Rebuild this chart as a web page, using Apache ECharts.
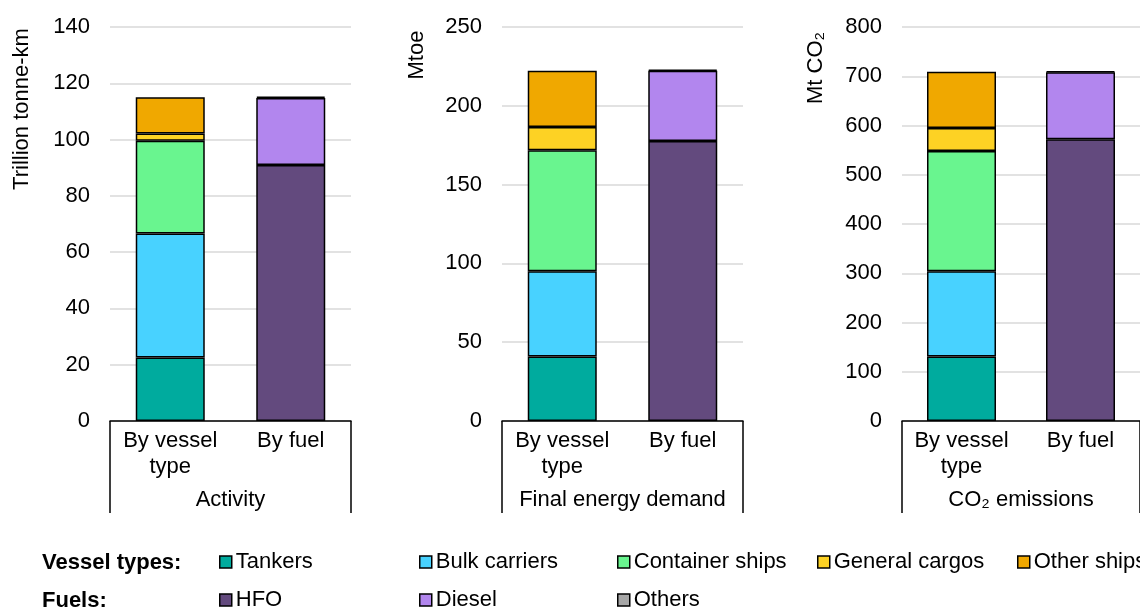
<!DOCTYPE html>
<html>
<head>
<meta charset="utf-8">
<style>
html,body{margin:0;padding:0;background:#fff;}
#chart{width:1140px;height:608px;}
</style>
<script src="https://cdn.jsdelivr.net/npm/echarts@6/dist/echarts.min.js"></script>
</head>
<body>
<div id="chart"></div>
<script>
// ---- Data ----
const categories = ['By vessel\ntype', 'By fuel'];
const panelNames = ['Activity', 'Final energy demand', 'CO\u2082 emissions'];
const yAxisNames = ['Trillion tonne-km', 'Mtoe', 'Mt CO\u2082'];
const yMax = [140, 250, 800];
const yInterval = [20, 50, 100];

// values per panel: [Activity, Final energy demand, CO2 emissions]
const tankers        = [22.6, 41.0, 131];
const bulkCarriers   = [44.0, 54.0, 173];
const containerShips = [33.0, 76.8, 244];
const generalCargos  = [2.6, 14.7, 47];
const otherShips     = [12.8, 35.8, 114];
const hfo            = [91.0, 177.7, 572];
const diesel         = [23.8, 44.6, 136];
const fuelOthers     = [0.4, 0.6, 2];

const vesselSeries = [
  {name: 'Tankers', values: tankers, color: '#00AB9E'},
  {name: 'Bulk carriers', values: bulkCarriers, color: '#48D2FF'},
  {name: 'Container ships', values: containerShips, color: '#69F58F'},
  {name: 'General cargos', values: generalCargos, color: '#FDD224'},
  {name: 'Other ships', values: otherShips, color: '#F0A800'}
];
const fuelSeries = [
  {name: 'HFO', values: hfo, color: '#634A7E'},
  {name: 'Diesel', values: diesel, color: '#B286EE'},
  {name: 'Others', values: fuelOthers, color: '#A6A6A6'}
];

// ---- Layout ----
const FONT = "'Liberation Sans', Arial, sans-serif";
const FS = 22;
const gridLefts = [110, 502, 902];
const gridWidth = 241;
const gridTop = 27, gridHeight = 394;
const yNamePos = [[22, 109], [417, 55], [816, 68]];

const grids = [], xAxes = [], yAxes = [], series = [], graphics = [];
for (let i = 0; i < 3; i++) {
  grids.push({left: gridLefts[i], top: gridTop, width: gridWidth, height: gridHeight, containLabel: false});
  xAxes.push({
    type: 'category', gridIndex: i, data: categories, position: 'bottom',
    axisLine: {show: true, lineStyle: {color: '#000', width: 1.5}},
    axisTick: {show: false},
    axisLabel: {color: '#000', fontSize: FS, fontFamily: FONT, lineHeight: 26, margin: 7, interval: 0}
  });
  xAxes.push({
    type: 'category', gridIndex: i, data: [panelNames[i]], position: 'bottom',
    axisLine: {show: false},
    axisTick: {show: true, length: 92, lineStyle: {color: '#000', width: 1.5}},
    axisLabel: {color: '#000', fontSize: FS, fontFamily: FONT, margin: 68}
  });
  yAxes.push({
    type: 'value', gridIndex: i, min: 0, max: yMax[i], interval: yInterval[i],
    axisLine: {show: false}, axisTick: {show: false},
    splitLine: {lineStyle: {color: '#d9d9d9', width: 1.5}},
    axisLabel: {color: '#000', fontSize: FS, fontFamily: FONT, margin: 20}
  });
  vesselSeries.forEach(s => {
    series.push({
      name: s.name, type: 'bar', xAxisIndex: i * 2, yAxisIndex: i, stack: 'p' + i,
      barWidth: 69, data: [s.values[i], '-'],
      itemStyle: {color: s.color, borderColor: '#000', borderWidth: 1.5},
      emphasis: {disabled: true}
    });
  });
  fuelSeries.forEach(s => {
    series.push({
      name: s.name, type: 'bar', xAxisIndex: i * 2, yAxisIndex: i, stack: 'p' + i,
      barWidth: 69, data: ['-', s.values[i]],
      itemStyle: {color: s.color, borderColor: '#000', borderWidth: 1.5},
      emphasis: {disabled: true}
    });
  });
  graphics.push({
    type: 'text', x: yNamePos[i][0], y: yNamePos[i][1], rotation: Math.PI / 2,
    style: {text: yAxisNames[i], fontSize: FS, fontFamily: FONT, fill: '#000', align: 'center', verticalAlign: 'middle'}
  });
}

graphics.push({type: 'text', x: 42, y: 563, style: {text: 'Vessel types:', fontSize: FS, fontWeight: 'bold', fontFamily: FONT, fill: '#000', verticalAlign: 'middle'}});
graphics.push({type: 'text', x: 42, y: 601, style: {text: 'Fuels:', fontSize: FS, fontWeight: 'bold', fontFamily: FONT, fill: '#000', verticalAlign: 'middle'}});

const legendX = [219, 419, 617, 817, 1017];
const legends = [];
vesselSeries.forEach((s, k) => legends.push({name: s.name, left: legendX[k], y: 561}));
fuelSeries.forEach((s, k) => legends.push({name: s.name, left: legendX[k], y: 599}));

const legendOpts = legends.map(l => ({
  data: [l.name], left: l.left, top: l.y - 10, padding: 0,
  icon: 'rect', itemWidth: 12, itemHeight: 12,
  itemStyle: {borderColor: '#000', borderWidth: 1.5},
  textStyle: {fontSize: FS, fontFamily: FONT, color: '#000', padding: [0, 0, 0, -1]},
  selectedMode: false
}));

const chart = echarts.init(document.getElementById('chart'), null, {renderer: 'canvas'});
chart.setOption({
  animation: false,
  backgroundColor: '#fff',
  grid: grids,
  xAxis: xAxes,
  yAxis: yAxes,
  legend: legendOpts,
  series: series,
  graphic: graphics
});
</script>
</body>
</html>
